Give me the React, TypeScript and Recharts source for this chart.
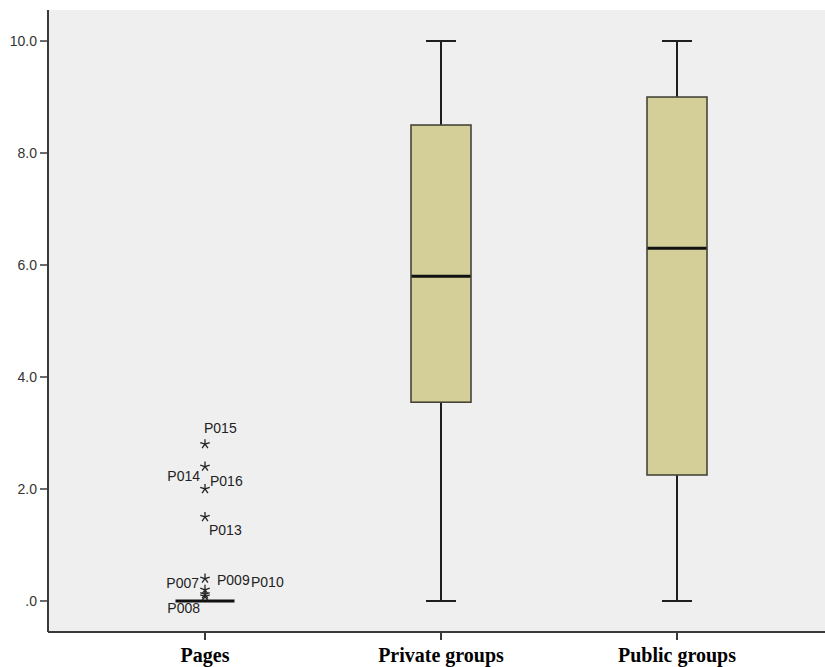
import React from 'react';
import { ComposedChart, Bar, Scatter, XAxis, YAxis, CartesianGrid } from 'recharts';

const categories = ['Pages', 'Private groups', 'Public groups'];
const whiskerLow = [0, 0, 0];
const q1 = [0, 3.55, 2.25];
const medians = [0, 5.8, 6.3];
const q3 = [0, 8.5, 9.0];
const whiskerHigh = [0, 10, 10];

const outlierCategory = 'Pages';
const outlierIds = ['P015', 'P014', 'P016', 'P013', 'P007', 'P009', 'P010', 'P008'];
const outlierValues = [2.8, 2.4, 2.0, 1.5, 0.4, 0.2, 0.12, 0.08];

const yTicks = [0, 2, 4, 6, 8, 10];

const data = categories.map((name, i) => {
  const row: any = {
    name,
    whisker: [whiskerLow[i], whiskerHigh[i]],
    box: q3[i] > q1[i] ? [q1[i], q3[i]] : null,
    median: medians[i],
  };
  if (name === outlierCategory) {
    outlierIds.forEach((id, j) => {
      row[id] = outlierValues[j];
    });
  }
  return row;
});

// label placement (styling) relative to each star
const labelPlacement: Record<string, { dx: number; dy: number; anchor: 'start' | 'end' }> = {
  P015: { dx: -1, dy: -11, anchor: 'start' },
  P014: { dx: -5, dy: 14, anchor: 'end' },
  P016: { dx: 5, dy: -3, anchor: 'start' },
  P013: { dx: 4, dy: 18, anchor: 'start' },
  P007: { dx: -6, dy: 9, anchor: 'end' },
  P009: { dx: 12, dy: -5, anchor: 'start' },
  P010: { dx: 46, dy: -7, anchor: 'start' },
  P008: { dx: -5, dy: 17, anchor: 'end' },
};

const WhiskerShape = (props: any) => {
  const { x, y, width, height } = props;
  if (x == null || y == null) return null;
  const cx = x + width / 2;
  const top = Math.min(y, y + height);
  const bottom = Math.max(y, y + height);
  return (
    <g>
      <line x1={cx} x2={cx} y1={top} y2={bottom} stroke="#1e1e1e" strokeWidth={2} />
      <line x1={x} x2={x + width} y1={top} y2={top} stroke="#1e1e1e" strokeWidth={2} />
      <line x1={x} x2={x + width} y1={bottom} y2={bottom} stroke="#1e1e1e" strokeWidth={2} />
    </g>
  );
};

const BoxShape = (props: any) => {
  const { x, y, width, height } = props;
  if (x == null || y == null || !height) return null;
  const top = Math.min(y, y + height);
  return (
    <rect x={x} y={top} width={width} height={Math.abs(height)} fill="#d4cf99" stroke="#45453a" strokeWidth={1.6} />
  );
};

const MedianShape = (props: any) => {
  const { cx, cy } = props;
  if (cx == null || cy == null || isNaN(cy)) return null;
  return <line x1={cx - 29.5} x2={cx + 29.5} y1={cy} y2={cy} stroke="#111" strokeWidth={3} />;
};

const makeOutlierShape = (id: string) => (props: any) => {
  const { cx, cy } = props;
  if (cx == null || cy == null || isNaN(cy)) return null;
  const r = 5;
  const arms = [0, 72, 144, 216, 288].map((deg) => {
    const a = ((deg - 90) * Math.PI) / 180;
    return { x: cx + r * Math.cos(a), y: cy + r * Math.sin(a) };
  });
  const p = labelPlacement[id];
  return (
    <g>
      {arms.map((pt, k) => (
        <line key={k} x1={cx} y1={cy} x2={pt.x} y2={pt.y} stroke="#222" strokeWidth={1.3} />
      ))}
      <text
        x={cx + p.dx}
        y={cy + p.dy}
        textAnchor={p.anchor}
        fontFamily="'Liberation Sans', Arial, sans-serif"
        fontSize={14}
        fill="#222"
      >
        {id}
      </text>
    </g>
  );
};

const fmt = (v: number) => (v === 0 ? '.0' : v.toFixed(1));

export default function App() {
  return (
    <div style={{ position: 'absolute', left: 0, top: 0, width: 825, height: 667, background: '#fff', overflow: 'hidden' }}>
      <ComposedChart
        width={825}
        height={667}
        data={data}
        margin={{ top: 10, right: 0, bottom: 0, left: 0 }}
      >
        <CartesianGrid horizontal={false} vertical={false} fill="#efefef" />
        <XAxis
          xAxisId="main"
          dataKey="name"
          type="category"
          height={35}
          padding={{ left: 39, right: 30 }}
          axisLine={{ stroke: '#3a3a3a', strokeWidth: 2 }}
          tickLine={{ stroke: '#3a3a3a', strokeWidth: 2 }}
          tickSize={8}
          tickMargin={8}
          tick={{ fontFamily: "'Liberation Serif', 'Times New Roman', serif", fontWeight: 'bold', fontSize: 20, fill: '#000' }}
        />
        <XAxis
          xAxisId="top"
          dataKey="name"
          type="category"
          orientation="top"
          height={0}
          padding={{ left: 39, right: 30 }}
          axisLine={{ stroke: '#3a3a3a', strokeWidth: 2 }}
          tickLine={false}
          tick={false}
        />
        <YAxis
          type="number"
          width={48}
          domain={[-0.554, 10.554]}
          allowDataOverflow
          ticks={yTicks}
          tickFormatter={fmt}
          axisLine={{ stroke: '#3a3a3a', strokeWidth: 2 }}
          tickLine={{ stroke: '#3a3a3a', strokeWidth: 1.5 }}
          tickSize={8}
          tickMargin={3}
          tick={{ fontFamily: "'Liberation Sans', Arial, sans-serif", fontSize: 14, fill: '#333' }}
        />
        <Bar xAxisId="main" dataKey="whisker" barSize={30} shape={WhiskerShape} isAnimationActive={false} />
        <Bar xAxisId="top" dataKey="box" barSize={60} shape={BoxShape} isAnimationActive={false} />
        <Scatter xAxisId="main" dataKey="median" shape={MedianShape} isAnimationActive={false} />
        {outlierIds.map((id) => (
          <Scatter key={id} xAxisId="main" dataKey={id} shape={makeOutlierShape(id)} isAnimationActive={false} />
        ))}
      </ComposedChart>
    </div>
  );
}
